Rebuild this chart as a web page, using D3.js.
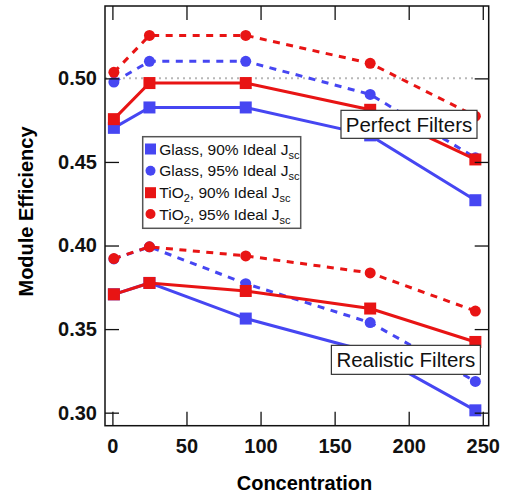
<!DOCTYPE html>
<html>
<head>
<meta charset="utf-8">
<script src="https://cdn.jsdelivr.net/npm/d3@7"></script>
<style>
  body { margin: 0; background: #fff; }
  svg { font-family: "Liberation Sans", Arial, sans-serif; }
</style>
</head>
<body>
<div id="chart"></div>
<script>
// concentration (suns) for every series
var concentration = [1, 25, 90, 174, 245];

// perfect filters
var perfectGlass90 = [0.4704, 0.4826, 0.4826, 0.4659, 0.4271];
var perfectGlass95 = [0.4978, 0.5102, 0.5102, 0.4904, 0.4525];
var perfectTiO2_90 = [0.4756, 0.4972, 0.4972, 0.4812, 0.4515];
var perfectTiO2_95 = [0.5036, 0.5257, 0.5257, 0.5090, 0.4774];

// realistic filters
var realGlass90 = [0.3708, 0.3776, 0.3563, 0.3363, 0.3014];
var realGlass95 = [0.3920, 0.3992, 0.3772, 0.3539, 0.3187];
var realTiO2_90 = [0.3708, 0.3776, 0.3728, 0.3623, 0.3423];
var realTiO2_95 = [0.3922, 0.3992, 0.3938, 0.3836, 0.3608];

var xTicks = [0, 50, 100, 150, 200, 250];
var yTicks = [0.30, 0.35, 0.40, 0.45, 0.50];
var refLevel = 0.50;
var refEnd = 244;

var legendLabels = [
    {pre: 'Glass, 90% Ideal J', chem: false},
    {pre: 'Glass, 95% Ideal J', chem: false},
    {pre: '90% Ideal J', chem: true},
    {pre: '95% Ideal J', chem: true}
];

var width = 508, height = 493;
// plot frame (window.top is reserved, so prefix these)
var plotLeft = 105, plotRight = 488.7, plotTop = 6, plotBottom = 425.7;

var blue = '#4646f2';
var red = '#e81414';

var x = d3.scaleLinear().domain([-5, 254]).range([plotLeft, plotRight]);
var y = d3.scaleLinear().domain([0.2922, 0.5433]).range([plotBottom, plotTop]);

var svg = d3.select('#chart').append('svg')
    .attr('width', width)
    .attr('height', height);

// dotted reference at 0.50
svg.append('line')
    .attr('x1', x(-5)).attr('x2', x(refEnd))
    .attr('y1', y(refLevel)).attr('y2', y(refLevel))
    .attr('stroke', '#b8b8b8')
    .attr('stroke-width', 2)
    .attr('stroke-dasharray', '2,4');

// build series table (styles kept here, not in data)
var series = [
    {values: perfectGlass90, color: blue, dashed: false, marker: 'square'},
    {values: perfectGlass95, color: blue, dashed: true, marker: 'circle'},
    {values: realGlass90, color: blue, dashed: false, marker: 'square'},
    {values: realGlass95, color: blue, dashed: true, marker: 'circle'},
    {values: perfectTiO2_90, color: red, dashed: false, marker: 'square'},
    {values: perfectTiO2_95, color: red, dashed: true, marker: 'circle'},
    {values: realTiO2_90, color: red, dashed: false, marker: 'square'},
    {values: realTiO2_95, color: red, dashed: true, marker: 'circle'}
];

var line = d3.line()
    .x(function(d, i){ return x(concentration[i]); })
    .y(function(d){ return y(d); });

var groups = svg.selectAll('g.series')
    .data(series)
    .enter()
    .append('g')
    .attr('class', 'series');

groups.append('path')
    .attr('d', function(d){ return line(d.values); })
    .attr('fill', 'none')
    .attr('stroke', function(d){ return d.color; })
    .attr('stroke-width', 3)
    .attr('stroke-dasharray', function(d){ return d.dashed ? '7,6.5' : null; });

var sq = 12;
groups.each(function(s){
    var g = d3.select(this);
    var pts = s.values.map(function(v, i){ return [x(concentration[i]), y(v)]; });
    if(s.marker === 'square'){
        g.selectAll('rect').data(pts).enter().append('rect')
            .attr('x', function(p){ return p[0] - sq/2; })
            .attr('y', function(p){ return p[1] - sq/2; })
            .attr('width', sq).attr('height', sq)
            .attr('fill', s.color);
    }else{
        g.selectAll('circle').data(pts).enter().append('circle')
            .attr('cx', function(p){ return p[0]; })
            .attr('cy', function(p){ return p[1]; })
            .attr('r', 5.5)
            .attr('fill', s.color);
    }
});

// axes, ticks pointing inward
var xBottom = svg.append('g')
    .attr('transform', 'translate(0,' + plotBottom + ')')
    .call(d3.axisBottom(x).tickValues(xTicks).tickSize(-14).tickPadding(13).tickFormat(d3.format('d')));
var xTop = svg.append('g')
    .attr('transform', 'translate(0,' + plotTop + ')')
    .call(d3.axisTop(x).tickValues(xTicks).tickSize(-14).tickFormat(''));
var yLeft = svg.append('g')
    .attr('transform', 'translate(' + plotLeft + ',0)')
    .call(d3.axisLeft(y).tickValues(yTicks).tickSize(-14).tickPadding(8).tickFormat(d3.format('.2f')));
var yRight = svg.append('g')
    .attr('transform', 'translate(' + plotRight + ',0)')
    .call(d3.axisRight(y).tickValues(yTicks).tickSize(-14).tickFormat(''));

[xBottom, xTop, yLeft, yRight].forEach(function(a){
    a.select('.domain').remove();
    a.selectAll('.tick line').attr('stroke', '#111').attr('stroke-width', 1.3);
    a.selectAll('.tick text')
        .attr('fill', '#111')
        .style('font-family', '"Liberation Sans", Arial, sans-serif')
        .style('font-size', '20px')
        .style('font-weight', 'bold');
});

svg.append('rect')
    .attr('x', plotLeft).attr('y', plotTop)
    .attr('width', plotRight - plotLeft).attr('height', plotBottom - plotTop)
    .attr('fill', 'none')
    .attr('stroke', '#111')
    .attr('stroke-width', 1.5);

// axis titles
svg.append('text')
    .attr('x', 304.5).attr('y', 490)
    .attr('text-anchor', 'middle')
    .style('font-size', '20px').style('font-weight', 'bold')
    .text('Concentration');

svg.append('text')
    .attr('transform', 'translate(33,211.5) rotate(-90)')
    .attr('text-anchor', 'middle')
    .style('font-size', '20px').style('font-weight', 'bold')
    .text('Module Efficiency');

// boxed annotations
function boxLabel(cx, cy, txt, w, h){
    var g = svg.append('g');
    g.append('rect')
        .attr('x', x(cx) - w/2).attr('y', y(cy) - h/2)
        .attr('width', w).attr('height', h)
        .attr('fill', '#fff')
        .attr('stroke', '#333')
        .attr('stroke-width', 1.2);
    g.append('text')
        .attr('x', x(cx)).attr('y', y(cy) + 7.5)
        .attr('text-anchor', 'middle')
        .style('font-size', '20.5px')
        .attr('fill', '#111')
        .text(txt);
}
boxLabel(200.2, 0.4725, 'Perfect Filters', 136, 28);
boxLabel(198.1, 0.3316, 'Realistic Filters', 149, 29);

// legend
var lg = svg.append('g');
lg.append('rect')
    .attr('x', 142.7).attr('y', 136.7)
    .attr('width', 158).attr('height', 91.6)
    .attr('fill', '#fff')
    .attr('stroke', '#555')
    .attr('stroke-width', 1.5);

var legendSeries = [series[0], series[1], series[4], series[5]];
var rowY = [149, 170.7, 192.7, 214];

legendSeries.forEach(function(s, i){
    var cy = rowY[i];
    if(s.marker === 'square'){
        lg.append('rect')
            .attr('x', 145).attr('y', cy - 5.5)
            .attr('width', 11).attr('height', 11)
            .attr('fill', s.color);
    }else{
        lg.append('circle')
            .attr('cx', 150.5).attr('cy', cy)
            .attr('r', 5)
            .attr('fill', s.color);
    }
    var t = lg.append('text')
        .attr('x', 159.3).attr('y', cy + 5.5)
        .style('font-size', '15.5px')
        .attr('fill', '#111');
    var lab = legendLabels[i];
    if(lab.chem){
        t.append('tspan').text('TiO');
        t.append('tspan').attr('dy', 4).style('font-size', '11px').text('2');
        t.append('tspan').attr('dy', -4).text(', ' + lab.pre);
    }else{
        t.append('tspan').text(lab.pre);
    }
    t.append('tspan').attr('dy', 4).style('font-size', '11px').text('sc');
});
</script>
</body>
</html>
